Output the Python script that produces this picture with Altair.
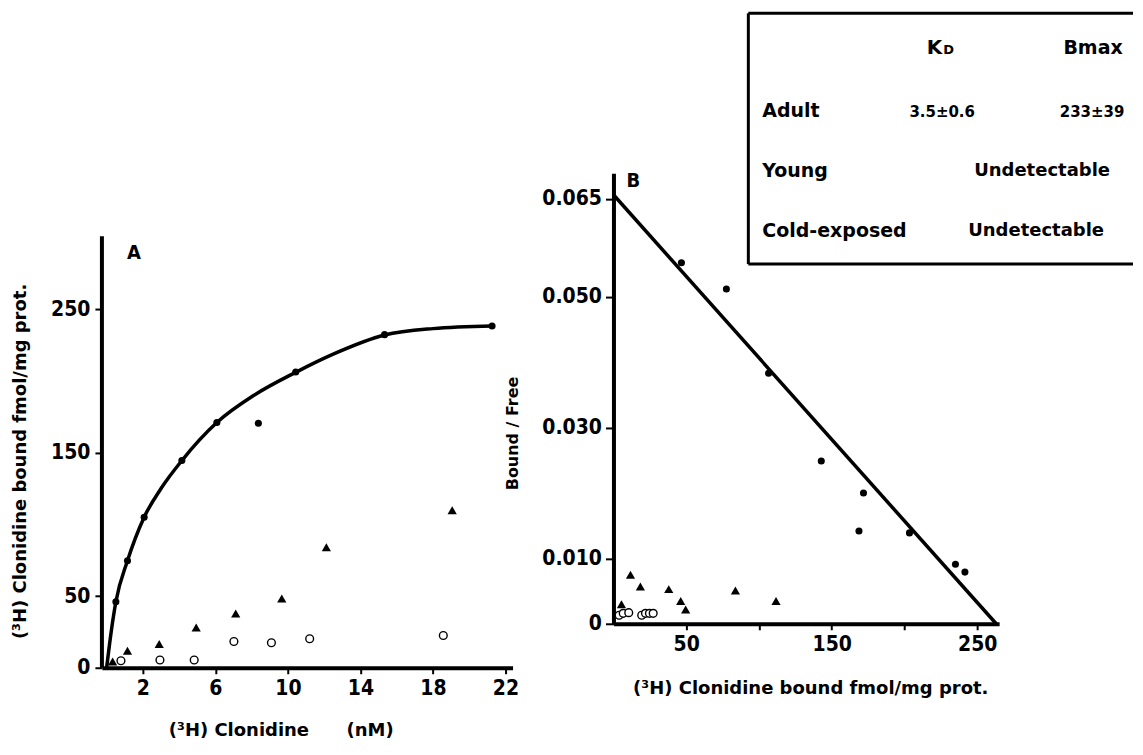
import altair as alt
import pandas as pd

# ---------------- data ----------------
# Panel A: saturation  ((3H) clonidine nM  vs  bound fmol/mg prot.)
adult_conc = [0.51, 1.15, 2.07, 4.15, 6.08, 8.37, 10.43, 15.33, 21.26]
adult_bound = [46.0, 74.6, 105.0, 144.5, 171.0, 170.5, 206.3, 232.3, 238.3]
cold_conc = [0.33, 1.15, 2.90, 4.94, 7.12, 9.66, 12.12, 19.06]
cold_bound = [4.4, 11.8, 16.5, 28.1, 37.8, 48.3, 84.1, 109.9]
young_conc = [0.79, 2.94, 4.83, 7.02, 9.09, 11.20, 18.57]
young_bound = [4.9, 5.4, 5.4, 18.3, 17.4, 20.2, 22.5]
curve_conc = [0, 0.25, 0.51, 1.15, 2.07, 3.0, 4.15, 6.08, 8.13, 10.43, 12.56, 15.33, 18.0, 21.26]
curve_bound = [0, 25, 46, 74.6, 105, 125, 144.5, 171.0, 190.0, 206.0, 219, 232.0, 236.5, 238.3]

# Panel B: Scatchard  (bound vs bound/free)
adult_b = [46.7, 77.6, 106.6, 142.8, 171.8, 168.7, 203.4, 235.0, 241.5]
adult_bf = [0.0552, 0.0512, 0.0383, 0.0249, 0.0200, 0.0142, 0.0139, 0.0091, 0.0079]
cold_b = [11.7, 18.5, 38.0, 83.8, 46.2, 49.6, 111.7, 5.5]
cold_bf = [0.0075, 0.0057, 0.0053, 0.0051, 0.0035, 0.0022, 0.0035, 0.0030]
young_b = [3.9, 6.7, 10.5, 19.4, 22.0, 24.7, 27.3]
young_bf = [0.0013, 0.0016, 0.0017, 0.0013, 0.0016, 0.0016, 0.0016]
fit_b = [0, 263]
fit_bf = [0.0656, 0.0]

# ticks
a_x_ticks = [2, 6, 10, 14, 18, 22]
a_y_ticks = [0, 50, 150, 250]
b_x_ticks = [50, 100, 150, 200, 250]
b_y_ticks = [0, 0.010, 0.030, 0.050, 0.065]

# table
table_rows = ["Adult", "Young", "Cold-exposed"]
table_head = ["K", "D", "Bmax"]
adult_kd = "3.5±0.6"
adult_bmax = "233±39"
undetect = "Undetectable"

TICK_FONT = "DejaVu Sans Condensed, Liberation Sans Narrow, DejaVu Sans"
TXT_FONT = "DejaVu Sans"
TICK_SIZE = 21

W_A, H_A = 411, 495
W_B, H_B = 386, 451


def df(x, y, xn, yn):
    return pd.DataFrame({xn: x, yn: y})


def note(text, x, y, size, weight="bold", align="left", font=TXT_FONT, baseline="middle"):
    return alt.Chart(alt.Data(values=[{}])).mark_text(
        text=text, fontSize=size, fontWeight=weight, align=align,
        baseline=baseline, font=font, color="black"
    ).encode(x=alt.value(x), y=alt.value(y))


def hrule(x1, x2, y, w=3):
    return alt.Chart(alt.Data(values=[{}])).mark_rule(color="black", strokeWidth=w).encode(
        x=alt.value(x1), x2=alt.value(x2), y=alt.value(y))


def vrule(x, y1, y2, w=3):
    return alt.Chart(alt.Data(values=[{}])).mark_rule(color="black", strokeWidth=w).encode(
        x=alt.value(x), y=alt.value(y1), y2=alt.value(y2))


# ---------------- Panel A ----------------
axA_x = alt.Axis(values=a_x_ticks, format="d", grid=False, domainWidth=4, domainColor="black",
                 tickSize=6, tickWidth=2, tickColor="black", labelFont=TICK_FONT, labelFontSize=TICK_SIZE,
                 labelFontWeight="bold", labelColor="black", labelPadding=4,
                 title="(³H) Clonidine" + "\u00a0" * 6 + "(nM)", titleFont=TXT_FONT, titleFontSize=18,
                 titleFontWeight="bold", titleColor="black", titleX=179, titleY=63,
                 titleBaseline="middle")
axA_y = alt.Axis(values=a_y_ticks, format="d", grid=False, domain=False,
                 tickSize=7, tickWidth=2, tickColor="black", labelFont=TICK_FONT, labelFontSize=TICK_SIZE,
                 labelFontWeight="bold", labelColor="black", labelPadding=5,
                 title="(³H) Clonidine bound fmol/mg prot.", titleFont=TXT_FONT, titleFontSize=18,
                 titleFontWeight="bold", titleColor="black", titleX=-81, titleY=288,
                 titleBaseline="middle", titleAngle=270)
sxA = alt.Scale(domain=[-0.26, 22.39], nice=False, zero=False)
syA = alt.Scale(domain=[0, 344.9], nice=False)
XA = alt.X("conc:Q", scale=sxA, axis=axA_x)
YA = alt.Y("bound:Q", scale=syA, axis=axA_y)

a_curve = alt.Chart(df(curve_conc, curve_bound, "conc", "bound")).mark_line(
    color="black", strokeWidth=3.5, interpolate="monotone").encode(x=XA, y=YA)
a_adult = alt.Chart(df(adult_conc, adult_bound, "conc", "bound")).mark_point(
    shape="circle", filled=True, color="black", size=50, opacity=1).encode(x=XA, y=YA)
a_cold = alt.Chart(df(cold_conc, cold_bound, "conc", "bound")).mark_point(
    shape="triangle-up", filled=True, color="black", size=85, opacity=1).encode(x=XA, y=YA)
a_young = alt.Chart(df(young_conc, young_bound, "conc", "bound")).mark_point(
    shape="circle", filled=True, fill="white", stroke="black", strokeWidth=1.4, size=60,
    opacity=1).encode(x=XA, y=YA)
a_yaxis = alt.Chart(alt.Data(values=[{}])).mark_rule(color="black", strokeWidth=4).encode(
    x=alt.value(0), y=alt.YDatum(0), y2=alt.Y2Datum(301))
a_label = note("A", 25, 80, 20, font=TICK_FONT)

chartA = alt.layer(a_yaxis, a_curve, a_young, a_cold, a_adult, a_label).properties(
    width=W_A, height=H_A)

# ---------------- Panel B ----------------
axB_x = alt.Axis(values=b_x_ticks, grid=False, domainWidth=4, domainColor="black",
                 labelExpr="(datum.value == 100 || datum.value == 200) ? '' : datum.label",
                 tickSize=6, tickWidth=2, tickColor="black", labelFont=TICK_FONT, labelFontSize=TICK_SIZE,
                 labelFontWeight="bold", labelColor="black", labelPadding=4,
                 title="(³H) Clonidine bound fmol/mg prot.", titleFont=TXT_FONT, titleFontSize=18,
                 titleFontWeight="bold", titleColor="black", titleX=197, titleY=65,
                 titleBaseline="middle")
axB_y = alt.Axis(values=b_y_ticks, grid=False, domainWidth=4, domainColor="black",
                 labelExpr="datum.value == 0 ? '0' : format(datum.value, '.3f')",
                 tickSize=8, tickWidth=2, tickColor="black", labelFont=TICK_FONT, labelFontSize=TICK_SIZE,
                 labelFontWeight="bold", labelColor="black", labelPadding=4,
                 title="Bound / Free", titleFont=TXT_FONT, titleFontSize=16,
                 titleFontWeight="bold", titleColor="black", titleX=-101, titleY=260,
                 titleBaseline="middle", titleAngle=270)
sxB = alt.Scale(domain=[0, 265], nice=False)
syB = alt.Scale(domain=[0, 0.0689], nice=False)
XB = alt.X("b:Q", scale=sxB, axis=axB_x)
YB = alt.Y("bf:Q", scale=syB, axis=axB_y)

b_fit = alt.Chart(df(fit_b, fit_bf, "b", "bf")).mark_line(
    color="black", strokeWidth=3.5).encode(x=XB, y=YB)
b_adult = alt.Chart(df(adult_b, adult_bf, "b", "bf")).mark_point(
    shape="circle", filled=True, color="black", size=50, opacity=1).encode(x=XB, y=YB)
b_cold = alt.Chart(df(cold_b, cold_bf, "b", "bf")).mark_point(
    shape="triangle-up", filled=True, color="black", size=85, opacity=1).encode(x=XB, y=YB)
b_young = alt.Chart(df(young_b, young_bf, "b", "bf")).mark_point(
    shape="circle", filled=True, fill="white", stroke="black", strokeWidth=1.4, size=60,
    opacity=1).encode(x=XB, y=YB)
b_label = note("B", 13, 8, 20, font=TICK_FONT)

# table box (positions relative to panel B's plot area)
box = [
    hrule(135, 520, -160),
    hrule(135, 520, 91),
    vrule(135, -160, 91),
]
table = [
    note(table_head[0], 329, -119, 20, align="right", baseline="alphabetic"),
    note(table_head[1], 330, -119, 13, align="left", baseline="alphabetic"),
    note(table_head[2], 480, -125, 19, align="center"),
    note(table_rows[0], 149, -62, 19),
    note(adult_kd, 329, -61, 15, align="center"),
    note(adult_bmax, 479, -61, 15, align="center"),
    note(table_rows[1], 149, -2, 19),
    note(undetect, 429, -2, 18, align="center"),
    note(table_rows[2], 149, 58, 19),
    note(undetect, 423, 58, 18, align="center"),
]

chartB = alt.layer(b_fit, b_young, b_cold, b_adult, b_label, *box, *table).properties(
    width=W_B, height=H_B)

chart = alt.hconcat(chartA, chartB, spacing=101, bounds="flush").configure_view(
    stroke=None
).properties(
    padding={"left": 4, "top": 3, "right": 0, "bottom": 5},
    background="white",
)

chart.save("out.html", embed_options={"renderer": "svg", "actions": False})
